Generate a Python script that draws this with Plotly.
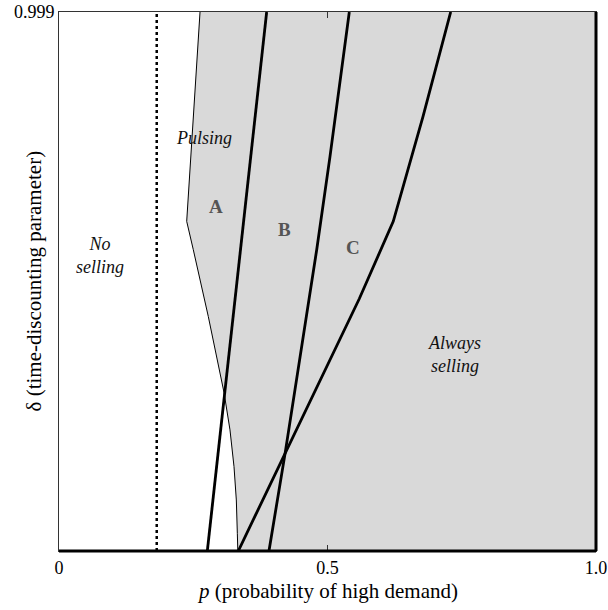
import plotly.graph_objects as go

# ---- data (p, delta) ----
no_selling_p = 0.182

boundary_p = [0.2626, 0.2378, 0.2501, 0.2780, 0.3073, 0.3184, 0.3259, 0.3302, 0.3321, 0.3330]
boundary_d = [0.999, 0.611, 0.5584, 0.4347, 0.2937, 0.2245, 0.1564, 0.0946, 0.0328, 0.0]

lineA_p = [0.2762, 0.3867]
lineA_d = [0.0, 0.999]

lineB_p = [0.391, 0.4209, 0.4799, 0.5047, 0.5406]
lineB_d = [0.0, 0.18, 0.5584, 0.7315, 0.999]

lineC_p = [0.3339, 0.4209, 0.5592, 0.6225, 0.6778, 0.7294]
lineC_d = [0.0, 0.18, 0.4675, 0.611, 0.805, 0.999]

x_tick_vals = [0, 0.5, 1.0]
x_tick_text = ["0", "0.5", "1.0"]
y_tick_vals = [0.999]
y_tick_text = ["0.999"]

region_labels = ["<i>Pulsing</i>", "<i>No<br>selling</i>", "<i>Always<br>selling</i>"]
region_p = [0.27, 0.0764, 0.737]
region_d = [0.766, 0.547, 0.3636]

letter_labels = ["<b>A</b>", "<b>B</b>", "<b>C</b>"]
letter_p = [0.292, 0.420, 0.547]
letter_d = [0.639, 0.5955, 0.5616]

x_title = "<i>p</i> (probability of high demand)"
y_title = "δ (time-discounting parameter)"

SERIF = "Liberation Serif"
GRAY = "#d9d9d9"

fig = go.Figure()

# shaded region: right of boundary
fill_x = boundary_p + [1.0, 1.0]
fill_y = boundary_d + [0.0, 0.999]
fig.add_trace(go.Scatter(x=fill_x, y=fill_y, fill="toself", fillcolor=GRAY,
                         mode="none", hoverinfo="skip", showlegend=False))
# boundary thin line
fig.add_trace(go.Scatter(x=boundary_p, y=boundary_d, mode="lines",
                         line=dict(color="black", width=1), showlegend=False))
# no-selling dotted line
fig.add_trace(go.Scatter(x=[no_selling_p, no_selling_p], y=[0, 0.999], mode="lines",
                         line=dict(color="black", width=2.5, dash="dot"), showlegend=False))
for px, dy in [(lineA_p, lineA_d), (lineB_p, lineB_d), (lineC_p, lineC_d)]:
    fig.add_trace(go.Scatter(x=px, y=dy, mode="lines",
                             line=dict(color="black", width=2.8), showlegend=False))

for t, px, dy in zip(region_labels, region_p, region_d):
    fig.add_annotation(x=px, y=dy, text=t, showarrow=False,
                       font=dict(family=SERIF, size=18, color="#111"))
for t, px, dy in zip(letter_labels, letter_p, letter_d):
    fig.add_annotation(x=px, y=dy, text=t, showarrow=False,
                       font=dict(family=SERIF, size=19, color="#555"))

# axis titles
fig.add_annotation(xref="paper", yref="paper", x=0.5, y=0, yshift=-40,
                   text=x_title, showarrow=False, xanchor="center", yanchor="middle",
                   font=dict(family=SERIF, size=21, color="black"))
fig.add_annotation(xref="paper", yref="paper", x=0, xshift=-26, y=0.5,
                   text=y_title, showarrow=False, textangle=-90,
                   xanchor="center", yanchor="middle",
                   font=dict(family=SERIF, size=21, color="black"))

# heavy bottom and right edges
fig.add_shape(type="line", xref="paper", yref="paper", x0=0, x1=1, y0=0, y1=0,
              line=dict(color="black", width=3))
fig.add_shape(type="line", xref="paper", yref="paper", x0=1, x1=1, y0=0, y1=1,
              line=dict(color="black", width=3))

fig.update_layout(
    width=608, height=610,
    margin=dict(l=59, r=12, t=12, b=59),
    plot_bgcolor="white", paper_bgcolor="white",
    font=dict(family=SERIF, size=17, color="black"),
    xaxis=dict(range=[0, 1], tickvals=x_tick_vals, ticktext=x_tick_text,
               automargin=False,
               showgrid=False, zeroline=False, showline=True, linecolor="#333",
               linewidth=1, mirror="ticks", ticks="inside", ticklen=6,
               tickcolor="#333", tickfont=dict(family=SERIF, size=18)),
    yaxis=dict(range=[0, 0.999], tickvals=y_tick_vals, ticktext=y_tick_text,
               automargin=False,
               showgrid=False, zeroline=False, showline=True, linecolor="#333",
               linewidth=1, mirror=True, ticks="", ticklen=0,
               tickfont=dict(family=SERIF, size=18)),
)

fig.write_html("out.html", config={"displayModeBar": False},
               post_script="document.body.style.margin='0';document.body.style.overflow='hidden';")
